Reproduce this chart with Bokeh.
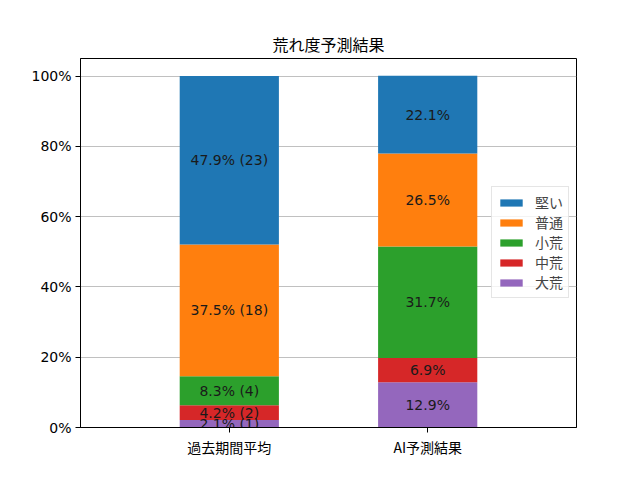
import numpy as np
from bokeh.plotting import figure
from bokeh.models import (ColumnDataSource, Range1d, FixedTicker, Legend, LegendItem, Title)
from bokeh.core.properties import value
from bokeh.embed import file_html
from bokeh.resources import INLINE

# ---- data ----
categories = ["過去期間平均", "AI予測結果"]
levels = ["大荒", "中荒", "小荒", "普通", "堅い"]          # bottom -> top
past_pct = [2.1, 4.2, 8.3, 37.5, 47.9]
past_counts = [1, 2, 4, 18, 23]
ai_pct = [12.9, 6.9, 31.7, 26.5, 22.1]
colors = ["#9467bd", "#d62728", "#2ca02c", "#ff7f0e", "#1f77b4"]
yticks = [0, 20, 40, 60, 80, 100]
ytick_labels = ["0%", "20%", "40%", "60%", "80%", "100%"]
title_text = "荒れ度予測結果"

JP = "Noto Sans CJK JP"
NUM = "DejaVu Sans"

xs = list(range(len(categories)))
data = {"x": xs}
for i, lv in enumerate(levels):
    data[lv] = [past_pct[i], ai_pct[i]]
src = ColumnDataSource(data)

p = figure(width=632, height=472, output_backend="svg", toolbar_location=None,
           x_range=Range1d(-0.75, 1.75), y_range=Range1d(0, 105),
           min_border_left=80, min_border_right=56, min_border_top=58,
           min_border_bottom=45)
p.background_fill_color = "white"
p.border_fill_color = "white"
p.outline_line_color = "black"
p.outline_line_width = 1

t = Title(text=title_text, align="center", text_font=JP, text_font_size="16px",
          text_font_style="normal", text_color="black", standoff=6)
p.add_layout(t, "above")

renderers = p.vbar_stack(levels, x="x", width=0.5, color=colors, source=src,
                         line_color=None)

# labels
lx, ly, lt = [], [], []
for ci, vals in enumerate([past_pct, ai_pct]):
    cum = np.cumsum([0] + vals)
    for i, v in enumerate(vals):
        lx.append(xs[ci])
        ly.append((cum[i] + cum[i + 1]) / 2)
        if ci == 0:
            lt.append(f"{v:.1f}% ({past_counts[i]})")
        else:
            lt.append(f"{v:.1f}%")
p.text(x=lx, y=ly, text=lt, text_align="center", text_baseline="middle",
       text_font=value(NUM), text_font_size="14px", text_color="#1a1a1a")

# axes
p.xaxis.ticker = FixedTicker(ticks=xs)
p.xaxis.major_label_overrides = {x: c for x, c in zip(xs, categories)}
p.xaxis.major_label_text_font = JP
p.yaxis.ticker = FixedTicker(ticks=yticks)
p.yaxis.major_label_overrides = {y: l for y, l in zip(yticks, ytick_labels)}
p.yaxis.major_label_text_font = NUM
for ax in (p.xaxis, p.yaxis):
    ax.major_label_text_font_size = "14px"
    ax.major_label_text_color = "black"
    ax.axis_line_color = "black"
    ax.major_tick_line_color = "black"
    ax.major_tick_out = 5
    ax.major_tick_in = 0
    ax.minor_tick_line_color = None
    ax.major_label_standoff = 4

p.xgrid.grid_line_color = None
p.ygrid.grid_line_color = "#b0b0b0"
p.ygrid.grid_line_width = 0.8
p.ygrid.ticker = FixedTicker(ticks=yticks)

items = [LegendItem(label=levels[i], renderers=[renderers[i]]) for i in range(len(levels) - 1, -1, -1)]
leg = Legend(items=items, location=(411, 129), label_text_font=JP,
             label_text_font_size="14px", glyph_width=28, glyph_height=9,
             label_height=17, spacing=0, padding=5, margin=0,
             border_line_color="#cccccc", border_line_width=1,
             background_fill_alpha=0.8, label_standoff=10)
p.add_layout(leg, "center")

open("out.html", "w").write(file_html(p, INLINE))
